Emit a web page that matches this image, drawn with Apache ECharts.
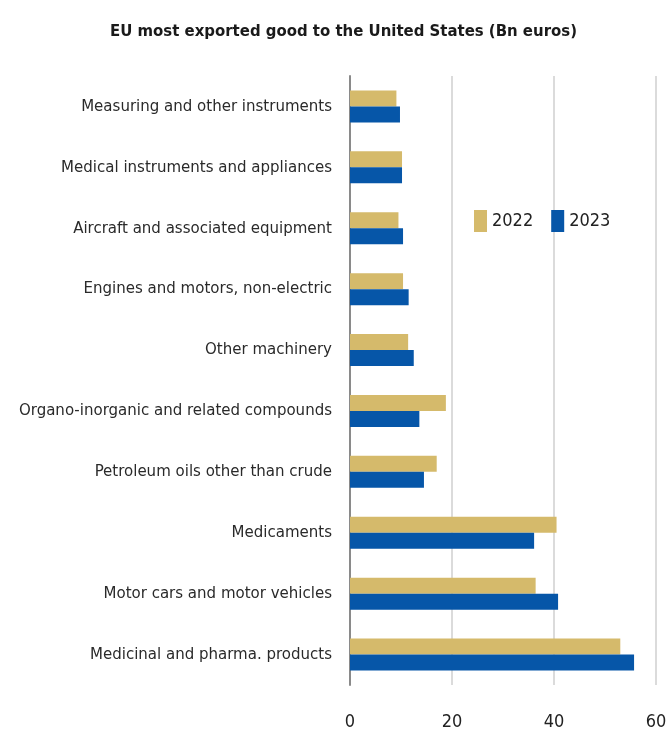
<!DOCTYPE html>
<html>
<head>
<meta charset="utf-8">
<script src="https://cdn.jsdelivr.net/npm/echarts@6/dist/echarts.min.js"></script>
<style>
  html, body { margin: 0; padding: 0; background: #ffffff; }
  #chart { width: 666px; height: 744px; }
</style>
</head>
<body>
<div id="chart"></div>
<script>
// Product categories, listed top to bottom
const categories = [
  'Measuring and other instruments',
  'Medical instruments and appliances',
  'Aircraft and associated equipment',
  'Engines and motors, non-electric',
  'Other machinery',
  'Organo-inorganic and related compounds',
  'Petroleum oils other than crude',
  'Medicaments',
  'Motor cars and motor vehicles',
  'Medicinal and pharma. products'
];

// Export values in billions of euros
const values2022 = [9.1, 10.2, 9.5, 10.4, 11.4, 18.8, 17.0, 40.5, 36.4, 53.0];
const values2023 = [9.8, 10.2, 10.4, 11.5, 12.5, 13.6, 14.5, 36.1, 40.8, 55.7];

const xTicks = [0, 20, 40, 60];

const FONT = '"Liberation Sans Narrow", "DejaVu Sans Condensed", "Roboto Condensed", sans-serif';
const GOLD = '#d5ba6b';
const BLUE = '#0656a8';

const chart = echarts.init(document.getElementById('chart'), null, { renderer: 'canvas' });

chart.setOption({
  backgroundColor: '#ffffff',
  animation: false,
  title: {
    text: 'EU most exported good to the United States (Bn euros)',
    left: 105,
    top: 18,
    textStyle: { fontFamily: FONT, fontWeight: 'bold', fontSize: 16.6, color: '#1a1a1a' }
  },
  legend: {
    data: ['2022', '2023'],
    left: 474,
    top: 210,
    padding: 0,
    itemWidth: 13,
    itemHeight: 22,
    itemGap: 18,
    icon: 'rect',
    textStyle: { fontFamily: FONT, fontSize: 18, color: '#222' }
  },
  grid: { left: 350, right: 10, top: 76, bottom: 59, containLabel: false, outerBoundsMode: 'none' },
  xAxis: {
    type: 'value',
    min: xTicks[0],
    max: xTicks[xTicks.length - 1],
    interval: 20,
    axisLine: { show: false },
    axisTick: { show: false },
    axisLabel: { fontFamily: FONT, fontSize: 18, color: '#222', margin: 28 },
    splitLine: { lineStyle: { color: '#cfcfcf', width: 1.5 } }
  },
  yAxis: {
    type: 'category',
    data: categories,
    inverse: true,
    axisLine: { show: true, lineStyle: { color: '#8a8a8a', width: 2 } },
    axisTick: { show: false },
    axisLabel: { fontFamily: FONT, fontSize: 16.7, color: '#2a2a2a', margin: 18 }
  },
  series: [
    {
      name: '2022',
      type: 'bar',
      data: values2022,
      barWidth: 16,
      barGap: '0%',
      itemStyle: { color: GOLD }
    },
    {
      name: '2023',
      type: 'bar',
      data: values2023,
      barWidth: 16,
      barGap: '0%',
      itemStyle: { color: BLUE }
    }
  ]
});
</script>
</body>
</html>
